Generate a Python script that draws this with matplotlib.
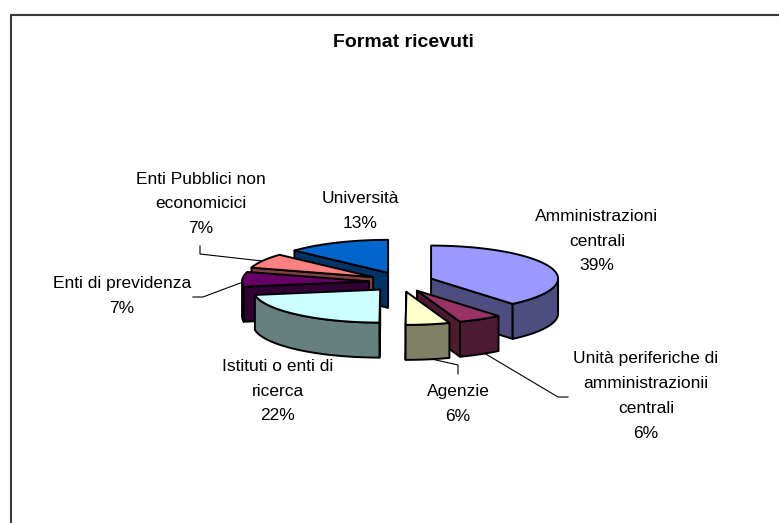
import numpy as np
import matplotlib
matplotlib.use("Agg")
import matplotlib.pyplot as plt

title = "Format ricevuti"
categories = ["Amministrazioni\ncentrali", "Unità periferiche di\namministrazionii\ncentrali",
              "Agenzie", "Istituti o enti di\nricerca", "Enti di previdenza",
              "Enti Pubblici non\neconomicici", "Università"]
values = [38.9, 5.6, 5.6, 22.3, 7.2, 7.2, 13.2]
top_colors = ["#9999FF", "#993366", "#FFFFCC", "#CCFFFF", "#660066", "#FF8080", "#0066CC"]
side_colors = ["#4D4D80", "#4D1A33", "#808066", "#668080", "#330033", "#804040", "#003366"]
draw_order = [6, 5, 4, 3, 0, 1, 2]
label_pos = [(597, 241), (646, 396), (458, 404), (278, 391), (122, 296), (201, 204), (360, 211)]
leaders = {1: [(484, 353), (558, 397), (568, 397)],
           2: [(427, 358), (458, 365), (458, 374)],
           4: [(193, 297), (203, 297), (243, 282)],
           5: [(200, 246), (200, 254), (262, 261)]}

CX, CY = 401, 282
A, B = 127, 33
DEPTH = 35
EX, EY = 32, 10

fig = plt.figure(figsize=(7.79, 5.23), dpi=100, facecolor="white")
ax = fig.add_axes([0, 0, 1, 1])
ax.set_xlim(0, 779)
ax.set_ylim(523, 0)
ax.axis("off")
plt.rcParams["font.family"] = ["Liberation Sans", "DejaVu Sans"]

ax.plot([10.8, 10.8, 779], [523, 15.3, 15.3], color="#3a3a3a", lw=1.5, solid_joinstyle="miter",
        zorder=1)

total = sum(values)
edges = np.concatenate([[0], np.cumsum(values)]) / total * 360.0
EC = "black"
LW = 1.4


def pt(ox, oy, deg):
    r = np.radians(deg)
    return ox + A * np.sin(r), oy - B * np.cos(r)


for i, pts in leaders.items():
    ax.plot(*zip(*pts), color="black", lw=0.8, zorder=1.5)

z = 2
for i in draw_order:
    t1, t2 = edges[i], edges[i + 1]
    mid = np.radians((t1 + t2) / 2)
    ox = CX + EX * np.sin(mid)
    oy = CY - EY * np.cos(mid)
    # radial face turned to the viewer
    edge_deg = t2 if (t1 + t2) / 2 < 180 else t1
    ex, ey = pt(ox, oy, edge_deg)
    ax.fill([ox, ex, ex, ox], [oy, ey, ey + DEPTH, oy + DEPTH],
            facecolor=side_colors[i], edgecolor=EC, lw=LW, joinstyle="round", zorder=z)
    # curved outer face (front half of the ellipse only)
    lo, hi = max(t1, 90), min(t2, 270)
    if hi > lo:
        th = np.linspace(lo, hi, 80)
        xs, ys = pt(ox, oy, th)
        ax.fill(np.r_[xs, xs[::-1]], np.r_[ys, ys[::-1] + DEPTH],
                facecolor=side_colors[i], edgecolor=EC, lw=LW, joinstyle="round", zorder=z)
    # top face
    th = np.linspace(t1, t2, 120)
    xs, ys = pt(ox, oy, th)
    ax.fill(np.r_[ox, xs], np.r_[oy, ys], facecolor=top_colors[i],
            edgecolor=EC, lw=LW, joinstyle="round", zorder=z)
    z += 1

for name, v, (x, y) in zip(categories, values, label_pos):
    ax.text(x, y, f"{name}\n{round(v)}%", ha="center", va="center", fontsize=12.5,
            linespacing=1.83, color="black", zorder=30)

ax.text(403, 42.5, title, ha="center", va="center", fontsize=14, fontweight="bold", color="black")

fig.savefig("out.png", dpi=100)
